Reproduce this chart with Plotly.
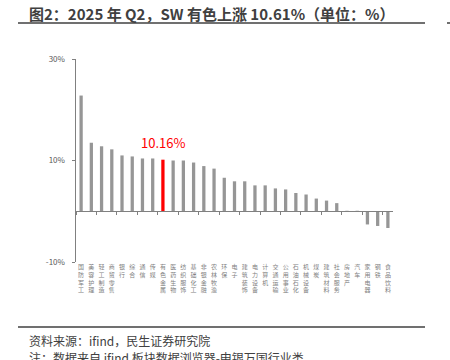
import plotly.graph_objects as go

categories = ["国防军工", "美容护理", "轻工制造", "商贸零售", "银行", "综合", "通信", "传媒",
              "有色金属", "医药生物", "纺织服饰", "基础化工", "非银金融", "农林牧渔", "环保", "电子",
              "建筑装饰", "电力设备", "计算机", "交通运输", "公用事业", "石油石化", "机械设备", "煤炭",
              "建筑材料", "社会服务", "房地产", "汽车", "家用电器", "钢铁", "食品饮料"]
values = [22.8, 13.5, 12.8, 12.2, 11.0, 10.8, 10.4, 10.4,
          10.16, 10.0, 10.0, 9.6, 8.9, 8.4, 6.6, 5.9,
          5.9, 5.1, 5.1, 4.5, 4.3, 3.6, 3.3, 2.5,
          2.1, 1.6, 0.1, 0.1, -2.6, -2.9, -3.3]
highlight = "有色金属"
title_text = "图2：2025 年 Q2，SW 有色上涨 10.61%（单位：%）"
source_text = "资料来源：ifind，民生证券研究院"
note_text = "注：数据来自 ifind 板块数据浏览器-申银万国行业类"
y_ticks = [-10, 10, 30]
y_ticktext = ["-10%", "10%", "30%"]
y_range = [-10, 30]

FONT = "Noto Sans CJK SC"
colors = ["#FF0000" if c == highlight else "#969696" for c in categories]
labels = ["<br>".join(list(c)) for c in categories]
hl_value = values[categories.index(highlight)]

fig = go.Figure()
fig.add_trace(go.Bar(
    x=categories, y=values, marker=dict(color=colors, line=dict(width=0)),
    hoverinfo="skip",
))
# invisible trace for the zero-line category axis with tick marks
fig.add_trace(go.Scatter(x=categories, y=[None] * len(categories), xaxis="x2",
                         mode="markers", showlegend=False, hoverinfo="skip"))

zero_pos = (0 - y_range[0]) / (y_range[1] - y_range[0])

fig.update_layout(
    width=450, height=360, autosize=False,
    margin=dict(l=76, r=57, t=59, b=98),
    paper_bgcolor="white", plot_bgcolor="white",
    showlegend=False, bargap=0.68, hovermode=False,
    font=dict(family=FONT, color="#595959"),
    xaxis=dict(type="category", tickvals=categories, ticktext=labels,
               tickangle=0, showline=False, showgrid=False, ticks="",
               automargin=False,
               tickfont=dict(size=6, color="#808080", family=FONT),
               range=[-0.5, len(categories) - 0.5]),
    xaxis2=dict(type="category", overlaying="x", matches="x", anchor="free",
                position=zero_pos, showline=True, linecolor="#808080", linewidth=1,
                ticks="outside", ticklen=3, tickcolor="#808080", tickson="boundaries",
                showticklabels=False, showgrid=False, automargin=False),
    yaxis=dict(range=y_range, tickvals=y_ticks, ticktext=y_ticktext,
               showgrid=False, zeroline=False, showline=True, automargin=False,
               linecolor="#808080", linewidth=1.5, ticks="outside", ticklen=3,
               ticklabelstandoff=5,
               tickcolor="#808080", tickfont=dict(size=8, color="#595959", family=FONT)),
    shapes=[
        dict(type="line", xref="paper", yref="paper", x0=-58 / 317, x1=349 / 317,
             y0=1 + 36 / 203, y1=1 + 36 / 203, line=dict(color="#404040", width=1.5)),
        dict(type="line", xref="paper", yref="paper", x0=371 / 317, x1=374 / 317,
             y0=1 + 36 / 203, y1=1 + 36 / 203, line=dict(color="#404040", width=1.5)),
        dict(type="line", xref="paper", yref="paper", x0=-58 / 317, x1=349 / 317,
             y0=-65 / 203, y1=-65 / 203, line=dict(color="#404040", width=1.5)),
    ],
    annotations=[
        dict(text=f"{hl_value:.2f}%", x=highlight, y=hl_value, xref="x", yref="y",
             yanchor="bottom", yshift=6, showarrow=False,
             font=dict(size=13, color="#FF0000", family=FONT)),
        dict(text="<b>" + title_text + "</b>", xref="paper", yref="paper",
             x=-49 / 317, y=1 + 45 / 203, xanchor="left", yanchor="middle",
             showarrow=False, font=dict(size=15, color="#404040", family=FONT)),
        dict(text=source_text, xref="paper", yref="paper",
             x=-49 / 317, y=-78 / 203, xanchor="left", yanchor="middle",
             showarrow=False, font=dict(size=12, color="#404040", family=FONT)),
        dict(text=note_text, xref="paper", yref="paper",
             x=-49 / 317, y=-95 / 203, xanchor="left", yanchor="middle",
             showarrow=False, font=dict(size=12, color="#404040", family=FONT)),
    ],
)

# remove the browser's default 8px body margin so the figure sits at the window origin
fig.write_html("out.html", config={"displayModeBar": False, "staticPlot": True},
               post_script="document.body.style.margin='0';document.body.style.overflow='hidden';")
